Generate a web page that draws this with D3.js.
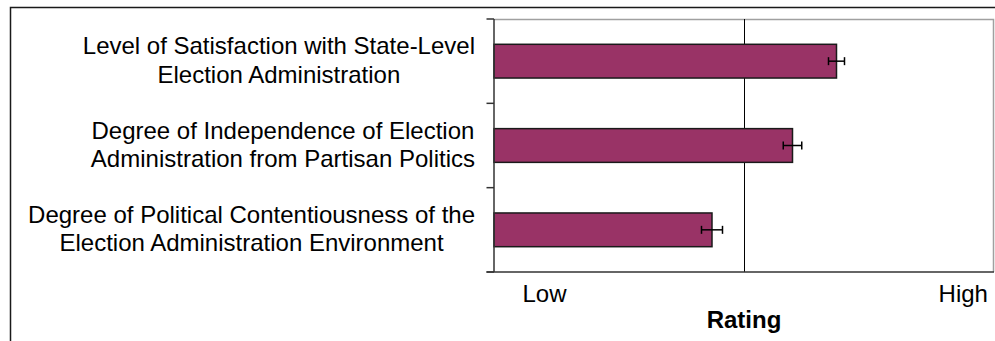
<!DOCTYPE html>
<html>
<head>
<meta charset="utf-8">
<script src="https://cdn.jsdelivr.net/npm/d3@7"></script>
<style>
  html, body { margin: 0; padding: 0; background: #fff; }
  svg { display: block; }
  text { font-family: "Liberation Sans", Arial, sans-serif; }
</style>
</head>
<body>
<svg id="chart" width="995" height="341"></svg>
<script>
// ---- data ----
const categories = [
  ["Level of Satisfaction with State-Level", "Election Administration"],
  ["Degree of Independence of Election", "Administration from Partisan Politics"],
  ["Degree of Political Contentiousness of the", "Election Administration Environment"]
];
const values = [68.5, 59.7, 43.6];
const errors = [1.6, 1.85, 2.1];
const xDomain = [0, 100];
const midValue = 50;
const xTickValues = [10, 93.75];
const xTickLabels = ["Low", "High"];
const xTitle = "Rating";

// ---- layout ----
const svg = d3.select("#chart");
const plot = { left: 494, right: 994, top: 19, bottom: 272 };
const fontSize = 24;

// outer frame (extends past the picture on right/bottom)
svg.append("rect")
  .attr("x", 10.5).attr("y", 7.5)
  .attr("width", 1100).attr("height", 500)
  .attr("fill", "none").attr("stroke", "#1a1a1a").attr("stroke-width", 1.5);

const x = d3.scaleLinear().domain(xDomain).range([plot.left, plot.right]);
const keys = categories.map((d, i) => i);
const y = d3.scaleBand().domain(keys).range([plot.top, plot.bottom])
  .paddingInner(0.6).paddingOuter(0.3);

// plot border (top/right gray)
svg.append("path")
  .attr("d", `M${plot.left},${plot.top + 0.5}H${plot.right - 0.5}V${plot.bottom}`)
  .attr("fill", "none").attr("stroke", "#a0a0a0").attr("stroke-width", 1.5);

// mid gridline
svg.append("line")
  .attr("x1", Math.round(x(midValue)) + 0.5).attr("x2", Math.round(x(midValue)) + 0.5)
  .attr("y1", plot.top).attr("y2", plot.bottom)
  .attr("stroke", "#000").attr("stroke-width", 1);

// bars
svg.append("g").selectAll("rect")
  .data(values)
  .join("rect")
  .attr("x", x(xDomain[0]))
  .attr("y", (d, i) => y(i))
  .attr("width", d => x(d) - x(xDomain[0]))
  .attr("height", y.bandwidth())
  .attr("fill", "#993366")
  .attr("stroke", "#1a1a1a")
  .attr("stroke-width", 1.5);

// error bars
const eg = svg.append("g").attr("stroke", "#000").attr("stroke-width", 1.5);
values.forEach((v, i) => {
  const cy = y(i) + y.bandwidth() / 2;
  const x0 = x(v - errors[i]), x1 = x(v + errors[i]);
  eg.append("line").attr("x1", x0).attr("x2", x1).attr("y1", cy).attr("y2", cy);
  eg.append("line").attr("x1", x0).attr("x2", x0).attr("y1", cy - 4).attr("y2", cy + 4);
  eg.append("line").attr("x1", x1).attr("x2", x1).attr("y1", cy - 4).attr("y2", cy + 4);
});

// y axis line and tick marks at band boundaries
const step = y.step();
const ag = svg.append("g").attr("stroke", "#333").attr("stroke-width", 1.5);
ag.append("line").attr("x1", plot.left).attr("x2", plot.left)
  .attr("y1", plot.top).attr("y2", plot.bottom);
d3.range(categories.length + 1).forEach(i => {
  const ty = plot.top + i * step;
  ag.append("line").attr("x1", plot.left - 7.5).attr("x2", plot.left)
    .attr("y1", ty).attr("y2", ty);
});
// x axis line
ag.append("line").attr("x1", plot.left - 7.5).attr("x2", plot.right)
  .attr("y1", plot.bottom).attr("y2", plot.bottom);

// category labels (centered lines, block right-aligned)
const labelRight = 475;
categories.forEach((lines, i) => {
  const cy = y(i) + y.bandwidth() / 2;
  const g = svg.append("g");
  const texts = lines.map((ln, j) => g.append("text")
    .attr("y", cy + (j === 0 ? -7 : 21.5))
    .attr("font-size", fontSize)
    .attr("fill", "#000")
    .attr("text-anchor", "middle")
    .text(ln));
  const maxW = d3.max(texts, t => t.node().getComputedTextLength());
  texts.forEach(t => t.attr("x", labelRight - maxW / 2));
});

// x tick labels via axis
const xAxis = d3.axisBottom(x)
  .tickValues(xTickValues)
  .tickFormat((d, i) => xTickLabels[i])
  .tickSize(0);
const xg = svg.append("g").attr("transform", `translate(0,${plot.bottom})`).call(xAxis);
xg.select(".domain").remove();
xg.selectAll("text")
  .attr("font-family", '"Liberation Sans", Arial, sans-serif')
  .attr("font-size", fontSize)
  .attr("fill", "#000")
  .attr("dy", null)
  .attr("y", 30);

// x title
svg.append("text")
  .attr("x", x(midValue))
  .attr("y", 327.5)
  .attr("text-anchor", "middle")
  .attr("font-size", fontSize)
  .attr("font-weight", "bold")
  .attr("fill", "#000")
  .text(xTitle);
</script>
</body>
</html>
